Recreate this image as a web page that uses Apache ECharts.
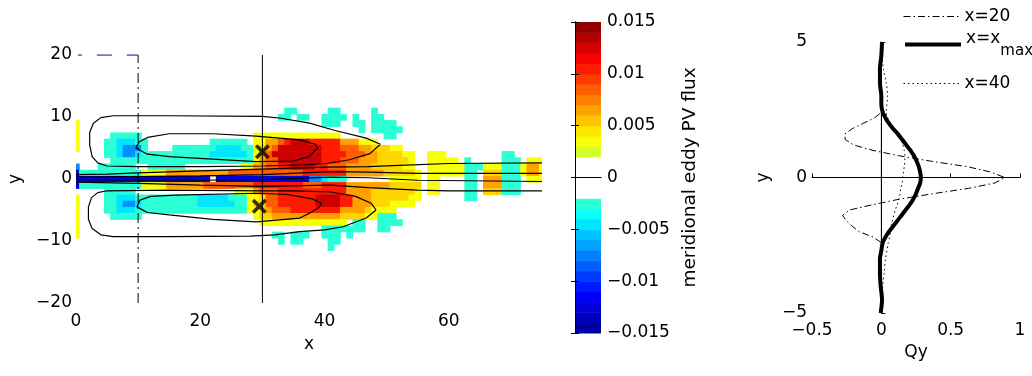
<!DOCTYPE html>
<html lang="en">
<head>
<meta charset="UTF-8">
<title>Meridional eddy PV flux</title>
<script src="https://cdn.jsdelivr.net/npm/echarts@6/dist/echarts.min.js"></script>
<style>html,body{margin:0;padding:0;background:#fff}#main{width:1032px;height:376px}</style>
</head>
<body>
<div id="main"></div>
<script>
// flux field: one row per y, one char per x = 0..75
// ('|' every 10 columns is only there to make the rows readable)
var fieldY = [11, 10, 9, 8, 7, 6, 5, 4, 3, 2, 1, 0, -1, -2, -3, -4, -5, -6, -7, -8, -9, -10, -11];
var fieldRows = [
  '..........|..........|..........|....cc....|.cc.....c.|..........|..........|......',
  '..........|..........|..........|...cc.cc..|cccc.c..cc|..........|..........|......',
  'y.........|..........|..........|..........|ccc..cc.cc|cc........|..........|......',
  'y.........|..........|..........|..........|......c.cc|ccc.......|..........|......',
  'y.....cccc|c.........|.........y|yyyyyyyyyy|yyy.......|cc........|..........|......',
  'y....cclll|cc........|..cccccc.y|yoorRDDDRR|RRRoooyyy.|..........|..........|......',
  'y....cclbb|bc....cccc|cccllllccy|YorDDDDDDD|RRRrrrooYY|Yyy.......|..........|......',
  '.....cclbb|lccccccccc|ccllllllcy|orDDDDDDDD|RRRRrrrooY|YYYyy..yyy|.........c|c.....',
  '......cccc|cccccccccc|cccccccccy|orrDDDDDDD|RRRrrroooY|YYYYy..yyy|yy.c.....c|cc.yyy',
  'b...cccccc|..cccccc..|.......yyo|orrRRDDDDR|RrrrooooYY|YYYyy..yyy|yyycccyyyc|ccyooy',
  'Bccccccccc|cyyyyooooo|ooooorrrrr|rrrrrrrRRR|RRRRoooooo|YYYYYy.yyy|yyycc.YYYc|ccyooy',
  'BBBBBBBBBB|BBBBBBBBBB|BB.BBBBBBB|BBBBBBBBbb|lccc......|.yyyyy.yy.|...cc.oooc|cc.yyy',
  'Bccccccccc|cyyyyooooo|orrrrrrrrR|RRRRRRRrrr|RRRRoooooo|oYYYYY.yy.|...cc.oooc|cc....',
  '.....ccccc|..........|......yyyo|rrrRRRRRRR|RRRRooooYY|YYYYYy.yy.|...cc.YYYc|cc....',
  'y....cclll|cccccccccc|lllllcccyy|YrrRRRRRRD|DDDRRoooYY|YYYYyy....|...cc.....|......',
  'y....cclbb|lccccccccc|llllllccyY|YrrRRRRRRD|DDDRRoooYY|Yyyyy.....|..........|......',
  'y....cclll|cccccccccc|ccccccccyy|YorrrRRRRR|RRRooooYyy|yy........|..........|......',
  'y.....cccc|c.........|.........y|YYoooooooo|oooYYYYyyc|cc........|..........|......',
  'y.........|..........|..........|yyyyyyyyyy|yyyy.cc..c|ccc.......|..........|......',
  'y.........|..........|..........|..........|ccccccc..c|c.........|..........|......',
  'y.........|..........|..........|..cc.ccc..|ccc.c.....|..........|..........|......',
  '..........|..........|..........|...c.cc...|.cc.......|..........|..........|......',
  '..........|..........|..........|..........|.c........|..........|..........|......'
];
var fieldLevels = {c: -0.0025, l: -0.0045, b: -0.007, B: -0.0125,
                   y: 0.0035, Y: 0.005, o: 0.0065, r: 0.0085, R: 0.0105, D: 0.0128};

// streamfunction contours (x, y)
var outerUp = [[49,5.6],[46.7,6.6],[41.4,7.9],[37.6,9.0],[33,9.8],[30,10.1],[15,10.2],[6,10.2],[4,9.9],[2.8,9.0],[2.2,7.5],[2.2,5.5],[2.6,3.6],[3.5,2.6],[5,2.1],[10,2.0],[20,2.0],[30,2.1],[37,2.3],[40.3,2.5],[44,3.1],[47.3,4.1],[49,5.6]];
var outerLow = [[48.3,-5.0],[46.7,-6.3],[43,-7.7],[40,-8.2],[36,-8.5],[32,-9.0],[28,-9.2],[15,-9.3],[6,-9.3],[4,-9.0],[2.6,-8.0],[2.0,-6.5],[2.0,-4.5],[2.5,-3.0],[3.5,-2.2],[5,-1.9],[15,-1.8],[30,-1.9],[35,-1.9],[41,-2.1],[45,-2.8],[47.5,-3.9],[48.3,-5.0]];
var innerUp = [[9.6,5.0],[10.2,6.0],[11.5,6.7],[15,7.3],[22,7.3],[29,6.9],[36,6.3],[38.5,5.6],[38.9,5.0],[37.5,3.6],[35,2.9],[29,2.8],[22,3.2],[15,3.6],[11.5,4.0],[9.6,5.0]];
var innerLow = [[9.8,-4.5],[10.3,-3.4],[12,-2.8],[16,-2.6],[29,-2.3],[34,-2.5],[38,-3.2],[39.5,-3.9],[39.2,-4.5],[38,-5.3],[36,-6.3],[29,-6.9],[22,-6.5],[15,-5.8],[11.5,-5.4],[9.8,-4.5]];
var jetLines = [
  [[0,0.7],[5,0.8],[10,1.0],[20,1.3],[30,1.6],[40,1.9],[47,2.0],[52,2.2],[60,2.5],[75,2.6]],
  [[0,0.3],[10,0.4],[20,0.5],[30,0.7],[41,1.2],[47,1.1],[55,0.9],[75,0.9]],
  [[0,-0.1],[10,-0.2],[20,-0.2],[30,-0.1],[41,0.3],[47,0.2],[55,-0.2],[75,-0.4]],
  [[0,-0.5],[10,-0.7],[20,-1.0],[30,-1.2],[41,-1.0],[47,-1.4],[55,-1.8],[60,-1.9],[75,-1.9]]
];
var xMaxMarks = [[30, 4.4], [29.5, -4.4]];
var sectionX20 = [[10, -20], [10, 20]];
var sectionXmax = [[30, -20], [30, 20]];
var topDash = [[0.3, 20], [10, 20]];

// colourbar bands (centres)
var cbLevels = [-0.0145,-0.0135,-0.0125,-0.0115,-0.0105,-0.0095,-0.0085,-0.0075,-0.0065,-0.0055,
                -0.0045,-0.0035,-0.0025,-0.0015,-0.0005,0.0005,0.0015,0.0025,0.0035,0.0045,
                0.0055,0.0065,0.0075,0.0085,0.0095,0.0105,0.0115,0.0125,0.0135,0.0145];

// Qy profiles
var profY = [5,4.5,4,3.5,3,2.7,2.4,2.2,2.0,1.8,1.6,1.4,1.2,1.0,0.8,0.6,0.4,0.2,0,-0.2,-0.4,-0.6,-0.8,-1.0,-1.2,-1.4,-1.6,-1.8,-2.0,-2.2,-2.4,-2.7,-3,-3.5,-4,-4.5,-5];
var q20 = [0,0,0,0,0,0,0,-0.05,-0.13,-0.21,-0.265,-0.26,-0.2,-0.06,0.13,0.36,0.62,0.79,0.89,0.82,0.63,0.37,0.13,-0.06,-0.23,-0.28,-0.25,-0.21,-0.16,-0.06,0,0,0,0,0,0,0];
var qMax = [0.005,0,-0.01,-0.01,0,0,0.01,0.03,0.055,0.085,0.12,0.15,0.18,0.21,0.235,0.255,0.27,0.28,0.285,0.28,0.265,0.25,0.23,0.205,0.175,0.145,0.115,0.085,0.055,0.03,0.01,0,-0.01,-0.01,-0.005,0.005,-0.005];
var q40 = [0,0.005,0.015,0.035,0.045,0.04,0.035,0.045,0.07,0.095,0.12,0.14,0.155,0.165,0.17,0.17,0.165,0.16,0.155,0.15,0.14,0.135,0.125,0.115,0.1,0.09,0.08,0.07,0.065,0.06,0.05,0.04,0.03,0.02,0.01,0.005,0];
var zeroLine = [[0, 2.4], [0, -2.4]];

var jet = ['#00008f','#0000ff','#0080ff','#00ffff','#80ff80','#ffff00','#ff8000','#ff0000','#800000'];
var FONT = 'DejaVu Sans';

var fieldData = [];
fieldRows.forEach(function (row, i) {
  row.replace(/\|/g, '').split('').forEach(function (ch, x) {
    if (fieldLevels[ch] !== undefined) fieldData.push([x, fieldY[i], fieldLevels[ch]]);
  });
});

function pairs(ys, xs) {
  return ys.map(function (y, i) { return [xs[i], y]; });
}
function minus(v) { return String(v).replace('-', '\u2212'); }

function renderCell(params, api) {
  var x = api.value(0), y = api.value(1);
  var a = api.coord([x - 0.5, y + 0.5]);
  var b = api.coord([x + 0.5, y - 0.5]);
  var cs = params.coordSys;
  var rect = echarts.graphic.clipRectByRect(
    {x: a[0], y: a[1], width: b[0] - a[0] + 0.6, height: b[1] - a[1] + 0.6},
    {x: cs.x, y: cs.y, width: cs.width, height: cs.height});
  if (!rect) return;
  return {type: 'rect', shape: rect, style: {fill: api.visual('color')}};
}

function renderBand(params, api) {
  var v = api.value(1);
  var a = api.coord([0, v + 0.0005]);
  var b = api.coord([1, v - 0.0005]);
  var fill = Math.abs(v) < 0.002 ? '#ffffff' : api.visual('color');
  return {type: 'rect', shape: {x: a[0], y: a[1], width: b[0] - a[0], height: b[1] - a[1] + 0.5},
          style: {fill: fill}};
}

function contour(data) {
  return {type: 'line', xAxisIndex: 0, yAxisIndex: 0, data: data, symbol: 'none', z: 3,
          lineStyle: {color: '#000', width: 1.2}, silent: true, animation: false};
}

var labelStyle = {color: '#000', fontSize: 17, fontFamily: FONT};
var blackLine = {show: true, lineStyle: {color: '#000', width: 1}};

var series = [
  {type: 'custom', xAxisIndex: 0, yAxisIndex: 0, data: fieldData, renderItem: renderCell, z: 1,
   encode: {x: 0, y: 1}, silent: true, animation: false},
  {type: 'custom', xAxisIndex: 1, yAxisIndex: 1, data: cbLevels.map(function (v) { return [0.5, v, v]; }),
   renderItem: renderBand, z: 1, encode: {x: 0, y: 1}, silent: true, animation: false},
  contour(outerUp), contour(outerLow), contour(innerUp), contour(innerLow)
];
jetLines.forEach(function (l) { series.push(contour(l)); });
series.push(
  {type: 'line', xAxisIndex: 0, yAxisIndex: 0, data: sectionX20, symbol: 'none', z: 4,
   lineStyle: {color: '#000', width: 1, type: [10, 4, 2, 4]}, animation: false},
  {type: 'line', xAxisIndex: 0, yAxisIndex: 0, data: sectionXmax, symbol: 'none', z: 4,
   lineStyle: {color: '#000', width: 1}, animation: false},
  {type: 'line', xAxisIndex: 0, yAxisIndex: 0, data: topDash, symbol: 'none', z: 4,
   lineStyle: {color: '#4646b4', width: 1.5, type: [4, 15, 15, 15, 11, 0]}, animation: false},
  {type: 'scatter', xAxisIndex: 0, yAxisIndex: 0, data: xMaxMarks, z: 5,
   symbol: 'path://M0,2L2,0L6,4L10,0L12,2L8,6L12,10L10,12L6,8L2,12L0,10L4,6Z',
   symbolSize: 15, itemStyle: {color: '#000'}, animation: false},
  {type: 'line', xAxisIndex: 3, yAxisIndex: 3, data: zeroLine, symbol: 'none',
   lineStyle: {color: '#000', width: 0.8}, animation: false},
  {name: 'x=20', type: 'line', xAxisIndex: 3, yAxisIndex: 3, data: pairs(profY, q20), symbol: 'none',
   itemStyle: {color: '#000'}, lineStyle: {color: '#000', width: 1, type: [7, 3, 1.5, 3]}, animation: false},
  {name: 'x=xmax', type: 'line', xAxisIndex: 3, yAxisIndex: 3, data: pairs(profY, qMax), symbol: 'none',
   smooth: 0.3, itemStyle: {color: '#000'}, lineStyle: {color: '#000', width: 4}, animation: false},
  {name: 'x=40', type: 'line', xAxisIndex: 3, yAxisIndex: 3, data: pairs(profY, q40), symbol: 'none',
   smooth: 0.3, itemStyle: {color: '#000'}, lineStyle: {color: '#000', width: 1, type: [1.5, 3]}, animation: false}
);

function legendAt(name, top, width) {
  return {data: [name], left: 903, top: top, orient: 'vertical', itemWidth: 56, itemHeight: 14,
          itemGap: 0, selectedMode: false, padding: 0,
          itemStyle: {opacity: 0, borderWidth: 0},
          lineStyle: {width: width, color: '#000'},
          textStyle: {color: '#000', fontSize: 17, fontFamily: FONT,
                      rich: {a: {fontSize: 17, fontFamily: FONT, color: '#000', padding: [0, 0, 12, 0]},
                             b: {fontSize: 15, fontFamily: FONT, color: '#000', padding: [14, 0, 0, 0]}}},
          formatter: function (n) { return n === 'x=xmax' ? '{a|x=x}{b|max}' : n; }};
}

var chart = echarts.init(document.getElementById('main'));
chart.setOption({
  backgroundColor: '#fff',
  animation: false,
  textStyle: {fontFamily: FONT},
  grid: [
    {left: 76, top: 55, width: 466, height: 248},
    {left: 575, top: 22, width: 26, height: 311},
    {left: 812, top: 42, width: 208, height: 271}
  ],
  xAxis: [
    {type: 'value', gridIndex: 0, min: 0, max: 75, interval: 20,
     axisLine: {show: false}, axisTick: {show: false}, splitLine: {show: false},
     axisLabel: Object.assign({margin: 10, formatter: function (v) { return v % 20 === 0 ? v : ''; }}, labelStyle),
     name: 'x', nameLocation: 'middle', nameGap: 33, nameTextStyle: labelStyle},
    {type: 'value', gridIndex: 1, min: 0, max: 1, position: 'bottom', z: 6,
     axisLine: blackLine, axisTick: {show: false}, axisLabel: {show: false}, splitLine: {show: false}},
    {type: 'value', gridIndex: 1, min: 0, max: 1, position: 'top', z: 6,
     axisLine: blackLine, axisTick: {show: false}, axisLabel: {show: false}, splitLine: {show: false}},
    {type: 'value', gridIndex: 2, min: -0.5, max: 1, interval: 0.5,
     axisLine: blackLine, axisTick: {inside: true, length: 4, lineStyle: {color: '#000'}},
     splitLine: {show: false},
     axisLabel: Object.assign({margin: 9, formatter: minus}, labelStyle),
     name: 'Qy', nameLocation: 'middle', nameGap: 30, nameTextStyle: labelStyle}
  ],
  yAxis: [
    {type: 'value', gridIndex: 0, min: -20, max: 20, interval: 10,
     axisLine: {show: false}, axisTick: {show: false}, splitLine: {show: false},
     axisLabel: Object.assign({margin: 4, formatter: minus}, labelStyle),
     name: 'y', nameLocation: 'middle', nameGap: 52, nameTextStyle: labelStyle},
    {type: 'value', gridIndex: 1, min: -0.015, max: 0.015, interval: 0.005, position: 'right', z: 6,
     axisLine: blackLine, axisTick: {inside: true, length: 4, lineStyle: {color: '#000'}},
     splitLine: {show: false},
     axisLabel: Object.assign({margin: 6, formatter: minus}, labelStyle),
     name: 'meridional eddy PV flux', nameLocation: 'middle', nameGap: 80,
     nameTextStyle: {color: '#000', fontSize: 18.5, fontFamily: FONT}},
    {type: 'value', gridIndex: 1, min: -0.015, max: 0.015, interval: 0.005, position: 'left', z: 6,
     axisLine: blackLine, axisTick: {inside: true, length: 4, lineStyle: {color: '#000'}},
     axisLabel: {show: false}, splitLine: {show: false}},
    {type: 'value', gridIndex: 2, min: -5, max: 5, interval: 5,
     axisLine: blackLine, axisTick: {inside: true, length: 4, lineStyle: {color: '#000'}},
     splitLine: {show: false},
     axisLabel: Object.assign({margin: 5, formatter: minus}, labelStyle),
     name: 'y', nameLocation: 'middle', nameGap: 40, nameTextStyle: labelStyle}
  ],
  visualMap: {type: 'continuous', show: false, min: -0.015, max: 0.015, dimension: 2,
              seriesIndex: [0, 1], inRange: {color: jet}},
  legend: [legendAt('x=20', 8, 1), legendAt('x=xmax', 30, 4), legendAt('x=40', 75, 1)],
  series: series
});
</script>
</body>
</html>
